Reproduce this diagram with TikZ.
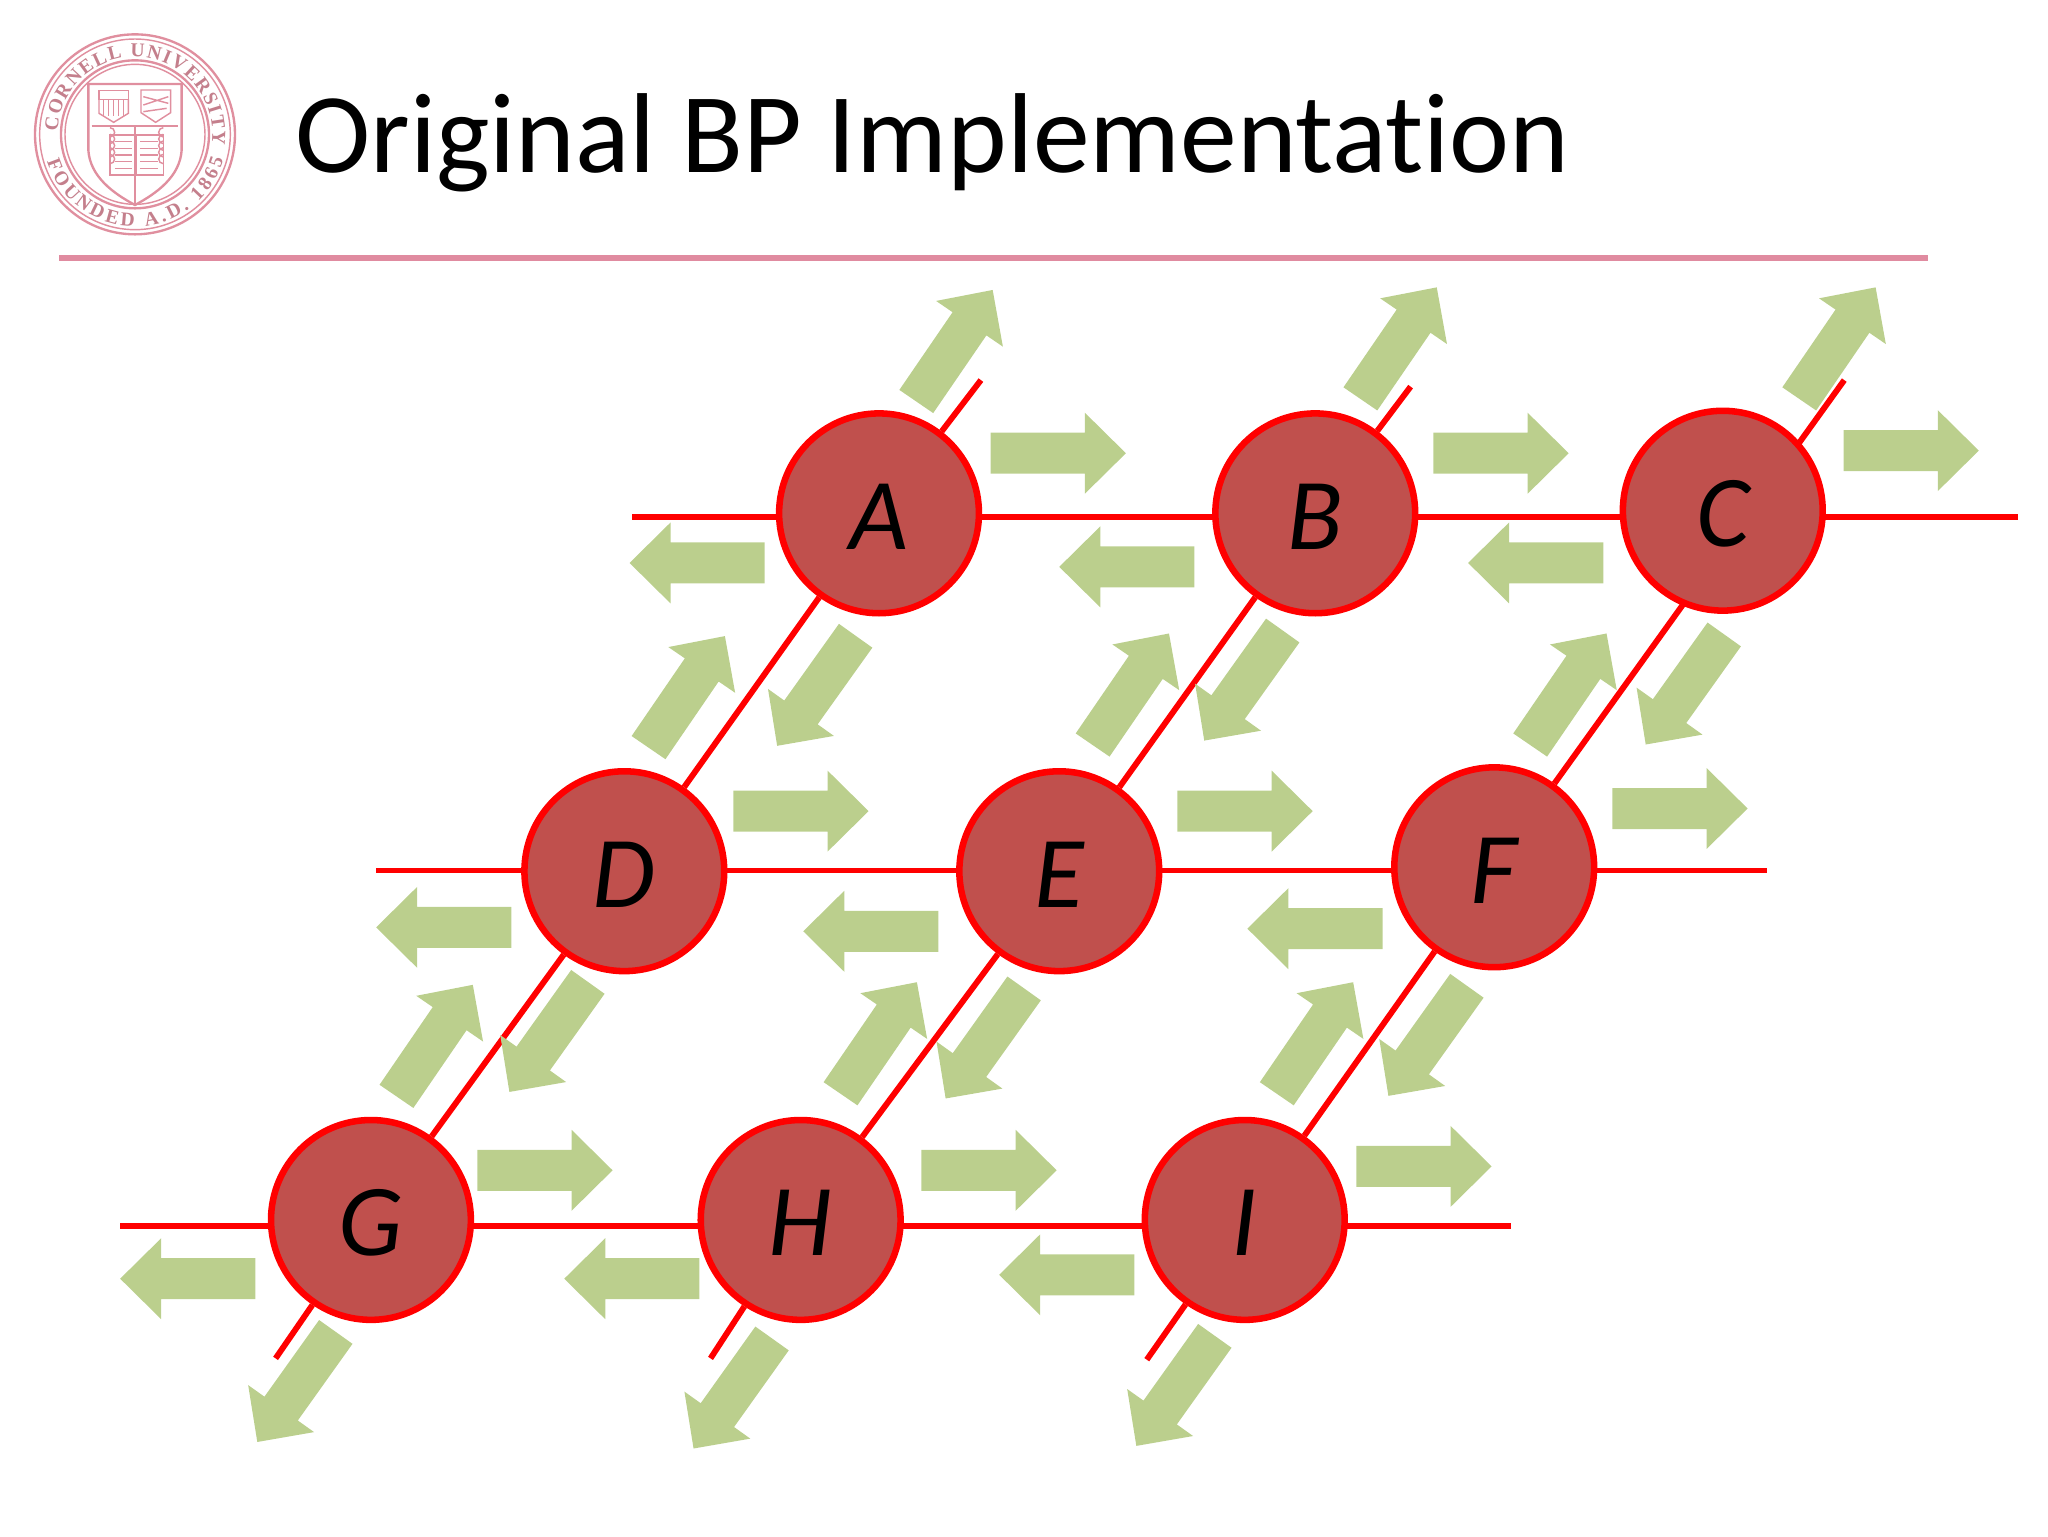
\documentclass[tikz,border=0pt]{standalone}
\usepackage{fontspec}
\setmainfont{Carlito}[Ligatures=NoCommon]
\newfontfamily\logofont{Liberation Serif}
\usetikzlibrary{backgrounds,decorations.text}
\definecolor{arrowgreen}{HTML}{BBCF8D}
\definecolor{nodered}{HTML}{C0504D}
\definecolor{edgered}{HTML}{FF0000}
\definecolor{rulepink}{HTML}{E08BA0}
\definecolor{logopink}{HTML}{E08F9F}
\definecolor{logotext}{HTML}{C47F8C}
\newcommand{\blockarrow}[3]{\fill[arrowgreen,shift={(#1,#2)},rotate=#3] (0,0) -- (-31.4,31) -- (-31.4,15.7) -- (-103.5,15.7) -- (-103.5,-15.7) -- (-31.4,-15.7) -- (-31.4,-31) -- cycle;}
\tikzset{
  bpnode/.style={circle,draw=edgered,fill=nodered,line width=5pt,minimum size=153pt,inner sep=0pt,
    text height=55pt,text depth=0pt,font=\fontsize{78}{80}\selectfont\itshape},
  wire/.style={draw=edgered,line width=4.5pt},
  logoline/.style={draw=logopink,line width=1.8pt},
  logothin/.style={draw=logopink,line width=1.1pt}
}
\begin{document}
\begin{tikzpicture}[x=1pt,y=-1pt]
\useasboundingbox (0,0) rectangle (1568,1176);
% title and rule
\node[anchor=base west,inner sep=0pt,font=\fontsize{87}{90}\selectfont] (title) at (226,132) {Original BP Implementation};
\fill[rulepink] (45,195.5) rectangle (1476,200);
% logo
\begin{scope}[x=0.2552pt,y=-0.2552pt]
  \draw[logoline] (405,403) circle[radius=300];
  \draw[logothin] (405,403) circle[radius=286];
  \draw[logoline] (405,403) circle[radius=222];
  \draw[logothin] (405,403) circle[radius=210];
  \path[postaction={decorate,decoration={text along path,text align={fit to path},
     text={|\logofont\fontsize{15}{15}\selectfont\bfseries\color{logotext}|CORNELL UNIVERSITY}}}]
     (405,403) ++(-178:232) arc[start angle=-178,end angle=8,radius=232];
  \path[postaction={decorate,decoration={text along path,text align={fit to path},
     text={|\logofont\fontsize{15}{15}\selectfont\bfseries\color{logotext}|FOUNDED A.D. 1865}}}]
     (405,403) ++(-197:276) arc[start angle=-197,end angle=-344,radius=276];
  \draw[logoline] (265,252) -- (545,252) -- (545,450) .. controls (540,530) and (470,580) .. (405,615) .. controls (340,580) and (270,530) .. (265,450) -- cycle;
  \draw[logothin] (275,378) -- (535,378) (405,378) -- (405,615);
  \draw[logothin] (297,272) rectangle (385,298);
  \draw[logothin] (297,298) -- (297,340) -- (341,367) -- (385,340) -- (385,298);
  \foreach \xx in {310,325,340,355,370} {\draw[logothin] (\xx,300) -- (\xx,348);}
  \draw[logothin] (423,270) -- (512,270) -- (512,338) -- (467,367) -- (423,338) -- cycle;
  \draw[logothin] (430,290) -- (505,310) (430,315) -- (505,290) (430,335) -- (500,325);
  \draw[logothin] (330,405) rectangle (490,525);
  \draw[logothin] (408,405) -- (408,525);
  \foreach \yy in {425,445,465,485,505} {\draw[logothin] (345,\yy) -- (395,\yy) (420,\yy) -- (475,\yy);
    \draw[logothin] (330,\yy) ++(0,-14) arc[start angle=-90,end angle=-270,radius=-14];
    \draw[logothin] (490,\yy) ++(0,-14) arc[start angle=-90,end angle=90,radius=-14];}
\end{scope}
% nodes
\node[bpnode] (A) at (673,393) {A};
\node[bpnode] (B) at (1007,393) {B};
\node[bpnode] (C) at (1319,391) {C};
\node[bpnode] (D) at (478,667) {D};
\node[bpnode] (E) at (811,667) {E};
\node[bpnode] (F) at (1144,664) {F};
\node[bpnode] (G) at (284,934) {G};
\node[bpnode] (H) at (613,934) {H};
\node[bpnode] (I) at (953,934) {I};
% free ends
\coordinate (r1a) at (484,396); \coordinate (r1b) at (1545,396);
\coordinate (r2a) at (288,666.5); \coordinate (r2b) at (1353,666.5);
\coordinate (r3a) at (92,938.5);  \coordinate (r3b) at (1157,938.5);
\coordinate (t1) at (751,291); \coordinate (t2) at (1080,296); \coordinate (t3) at (1412,291);
\coordinate (b1) at (211,1040); \coordinate (b2) at (544,1040); \coordinate (b3) at (878,1041);
\begin{scope}[on background layer]
  \draw[wire] (r1a) -- (A |- r1a) -- (B |- r1a) -- (C |- r1a) -- (r1b);
  \draw[wire] (r2a) -- (D |- r2a) -- (E |- r2a) -- (F |- r2a) -- (r2b);
  \draw[wire] (r3a) -- (G |- r3a) -- (H |- r3a) -- (I |- r3a) -- (r3b);
  \draw[wire] (t1) -- (A) -- (D) -- (G) -- (b1);
  \draw[wire] (t2) -- (B) -- (E) -- (H) -- (b2);
  \draw[wire] (t3) -- (F) -- (I) -- (b3);
\end{scope}
% message arrows
\foreach \tx/\ty in {862/347,1201/347,1515/345,665/621,1005/621,1338/619,469/896,809/896,1142/893} {\blockarrow{\tx}{\ty}{0}}
\foreach \tx/\ty in {482/431,811/434,1124/431,288/710,615/713,955/711,92/979,432/979,765/976} {\blockarrow{\tx}{\ty}{180}}
\foreach \tx/\ty in {760/222,1100/220,1436/220,555/487,895/485,1230/485,362/754,702/752,1036/752} {\blockarrow{\tx}{\ty}{55.6}}
\foreach \tx/\ty in {595/571,922/567,1260/570,390/836,724/841,1063/839,197/1104,531/1109,870/1107} {\blockarrow{\tx}{\ty}{234.5}}
\end{tikzpicture}
\end{document}
